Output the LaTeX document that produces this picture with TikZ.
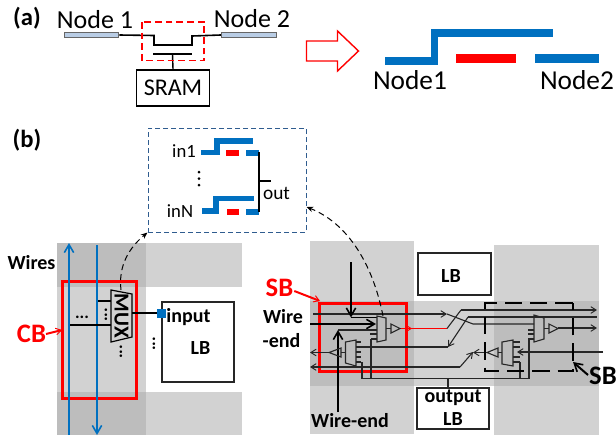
\documentclass[tikz,border=0pt]{standalone}
\usepackage{fontspec}
\setmainfont{Carlito}
\usetikzlibrary{arrows.meta}
\definecolor{lightg}{HTML}{D2D2D2}
\definecolor{darkg}{HTML}{BDBDBD}
\definecolor{wireblue}{HTML}{0070C0}
\definecolor{barfill}{HTML}{B9CDE5}
\definecolor{boxdash}{HTML}{2F5C8F}
\newcommand{\fs}[1]{\fontsize{#1}{#1}\selectfont}
\tikzset{
  x=0.75pt,y=-0.75pt,
  px/.style={line width=#1*0.75pt},
  txt/.style={inner sep=0pt,outer sep=0pt,text=black},
  lab/.style={txt,font=\fs{15}\bfseries},
  bigA/.style={txt,font=\fs{19.5}},
  bigB/.style={txt,font=\fs{20.5}},
  bluew/.style={wireblue,line width=5.6pt,line join=miter},
  redbar/.style={red,line width=6.6pt},
  tinyblue/.style={wireblue,line width=4.2pt},
  tinyred/.style={red,line width=3.8pt},
  wire/.style={black!85,px=1.1},
  fatwire/.style={black,px=1.8},
  headS/.style={-{Straight Barb[length=4pt,width=5pt,line width=0.7pt]}},
  headL/.style={-{Straight Barb[length=6pt,width=7pt,line width=1.2pt]}},
  muxs/.style={draw=black!85,px=1.1,line join=miter},
  plainbox/.style={draw=black!85,px=1.3,fill=white},
  dashcurve/.style={black,px=1,dash pattern=on 4.5pt off 3pt},
  dotsv/.style={txt,font=\fs{13}\bfseries,rotate=90},
}
\begin{document}
\begin{tikzpicture}
\useasboundingbox (0,0) rectangle (616,436);
% grey bands
\fill[lightg] (57,243) rectangle (146,435);
\fill[lightg] (146,243) rectangle (242,287);
\fill[lightg] (146,392) rectangle (242,435);
\fill[darkg] (57,243) rectangle (146,287);
\fill[darkg] (57,392) rectangle (146,435);
\fill[lightg] (310,241) rectangle (414,434);
\fill[lightg] (494,245) rectangle (599,435);
\fill[lightg] (414,301) rectangle (494,386);
\fill[darkg] (310,301) rectangle (414,386);
\fill[darkg] (494,301) rectangle (599,386);

% (a)
\node[txt,font=\fs{18.5}\bfseries] (a) at (27,18) {(a)};
\node[bigA] (n1) at (95,20) {Node 1};
\node[bigA] (n2) at (252,19) {Node 2};
\node[draw=black!60,px=1,fill=barfill,minimum width=41pt,minimum height=4.3pt,inner sep=0pt] (bar1) at (91.5,35) {};
\node[draw=black!60,px=1,fill=barfill,minimum width=41.5pt,minimum height=4.3pt,inner sep=0pt] (bar2) at (249,35) {};
\draw[black,px=1.6] (bar1.east) -- (154,35.5) -- (154,45) -- (192,45) -- (192,36) -- (bar2.west);
\node[draw=black,px=1.4,minimum width=54.5pt,minimum height=27pt,inner sep=0pt,font=\fs{18}] (sram) at (173,88) {SRAM};
\coordinate (gate) at (172.5,54);
\draw[black,px=1.6] (153,54) -- (192,54);
\draw[black,px=1.4] (gate) -- (sram.north);
\draw[red,px=1.4,dash pattern=on 5pt off 3pt] (142,22) rectangle (204,60.5);
% arrow
\draw[red,px=1.4,fill=white,line join=miter] (306.5,41) -- (337.5,41) -- (337.5,31) -- (358.5,51) -- (337.5,71) -- (337.5,61) -- (306.5,61) -- cycle;
% switch
\draw[bluew] (385,61) -- (434.5,61) -- (434.5,33) -- (553,33);
\draw[redbar] (456,58.5) -- (516,58.5);
\draw[wireblue,line width=6.6pt] (535,58.5) -- (599,58.5);
\node[bigB] (n1b) at (410,80) {Node1};
\node[bigB] (n2b) at (577,80) {Node2};

% (b)
\node[txt,font=\fs{18.5}\bfseries] (b) at (27,140) {(b)};
\node[draw=boxdash,px=1,dash pattern=on 3.5pt off 2.5pt,minimum width=118.5pt,minimum height=78pt,inner sep=0pt] (zoombox) at (227,180) {};
\node[txt,font=\fs{14}] (in1) at (184,151) {in1};
\node[txt,font=\fs{14}] (inN) at (180,211) {inN};
\node[txt,font=\fs{14.5}] (out) at (276.5,193) {out};
\draw[tinyblue] (201,152.5) -- (217,152.5) -- (217,141) -- (253,141);
\draw[tinyred] (226,153) -- (239,153);
\draw[tinyblue] (246,153) -- (259,153);
\draw[tinyblue] (202,211) -- (216,211) -- (216,198.5) -- (254,198.5);
\draw[tinyred] (227,212) -- (239,212);
\draw[tinyblue] (246,212) -- (259,212);
\draw[black,px=1.2] (259,152) -- (259,212);
\draw[black,px=1.2] (259,181) -- (271,181);
\fill[black] (199,172) circle (1.5) (199,178.5) circle (1.5) (199,185) circle (1.5);

% left: connection block
\node[lab] (wires) at (31.5,263) {Wires};
\draw[red,px=3] (62,281) rectangle (136,398);
\draw[wireblue,px=2,headL] (69,435) -- (69,243);
\draw[wireblue,px=2,headL] (97,245) -- (97,435);
\node[txt,font=\fs{20}\bfseries,text=red] (cb) at (31.5,334) {CB};
\coordinate (cbt) at (62,330);
\draw[red,px=2,headS] (cb.east) -- (cbt);
\draw[black,px=1.2,fill=lightg,line join=miter] (111,290) -- (132,294) -- (132,337) -- (111,342) -- cycle;
\node[txt,font=\fs{16}\bfseries,rotate=-90] (mux) at (121.5,316) {MUX};
\draw[black,px=1.5] (98,301) -- (111,301);
\draw[black,px=1.5] (70,325) -- (111,325);
\node[txt,font=\fs{13}\bfseries] (d1) at (82,317) {...};
\node[dotsv] (d2) at (106,315) {...};
\node[dotsv] (d3) at (121,352) {...};
\node[dotsv] (d4) at (154,344) {...};
\node[plainbox,minimum width=54pt,minimum height=60pt,inner sep=0pt] (lb1) at (198,342) {};
\fill[wireblue] (157,309) rectangle (166,318);
\coordinate (pin) at (157,313);
\draw[black,px=1.8] (132,313) -- (pin);
\node[lab] (input) at (188.5,317) {input};
\node[lab] (lb1t) at (200.5,348) {LB};
\draw[dashcurve,-{Stealth[length=5pt,width=4pt]}] (121,290) .. controls (118,265) and (130,247) .. (zoombox.south west);

% right: LB boxes
\node[plainbox,minimum width=54.75pt,minimum height=31.5pt,inner sep=0pt] (lb2) at (454.5,274) {};
\node[txt,font=\fs{15}\bfseries] (lb2t) at (451,276) {LB};
\node[plainbox,minimum width=54pt,minimum height=30.75pt,inner sep=0pt] (lb3) at (453,408.5) {};
\node[lab] (lb3a) at (453,398) {output};
\node[lab] (lb3b) at (453,419) {LB};
\draw[wire] (448,378.5) -- (lb3.north -| 448,0);

% SB red rect
\draw[red,px=3] (319,303) rectangle (406,371);
\node[txt,font=\fs{20}\bfseries,text=red] (sb) at (279.5,288) {SB};
\coordinate (sbt) at (320,301);
\draw[red,px=2,headS] (sb.east) ++(1,3) -- (sbt);
\node[lab] (w1) at (283,317) {Wire};
\node[lab] (w2) at (281.5,341) {-end};
\node[lab] (w3) at (350,421) {Wire-end};

% wires
\draw[black!85,px=1.2,headS] (313,314) -- (447,314);
\draw[wire] (447,314) -- (473,324) -- (534,324);
\draw[red,px=1.1] (400,328.5) -- (447,328.5);
\draw[red,px=1,headS] (402,328.5) -- (412,328.5);
\draw[wire] (447,328.5) -- (461,310);
\draw[wire,headS] (461,310) -- (597,310);
\draw[wire] (468,317) -- (597,317);
\draw[wire,headS] (468,317) -- (448,347);
\draw[wire] (448,347) -- (361,347);
\draw[wire,headS] (558,328) -- (597,328);
\draw[wire] (460,367) -- (322,367);
\draw[wire,headS] (322,367) -- (310,367);
\draw[wire,headS] (460,367) -- (473,352);
\draw[wire,headS] (487,352.5) -- (473,352.5);
\draw[wire,headS] (603,352) -- (517,352);
\draw[wire] (362,378.5) -- (529,378.5);
\draw[wire] (529,378.5) -- (529,339);
\draw[wire] (371,378.5) -- (371,339);
\draw[wire] (520,362) -- (520,378.5);
\draw[wire] (362,362) -- (362,378.5);
% dashed SB
\draw[black,px=2,dash pattern=on 13pt off 6pt] (572.5,303) -- (485,303) -- (485,371) -- (572.5,371) -- cycle;
% left muxes
\draw[fatwire,headL] (310,324) -- (376,324);
\draw[fatwire,headL] (351,262) -- (351,317.5);
\draw[fatwire] (351,317.5) -- (377,317.5);
\draw[wire] (338,330) -- (377,330);
\draw[black,px=2,headL] (338,412) -- (338,330);
\draw[wire] (370,334) -- (377,334);
\draw[wire] (371,339) -- (377,339);
\draw[muxs] (377,316) -- (386,318) -- (386,340) -- (377,342) -- cycle;
\draw[muxs] (391,324) -- (391,333) -- (400,328.5) -- cycle;
\draw[wire] (386,328.5) -- (391,328.5);
\draw[muxs] (345.5,342) -- (356,340) -- (356,366) -- (345.5,363) -- cycle;
\draw[muxs] (341,348) -- (341,357) -- (329,352.5) -- cycle;
\draw[wire,px=1.6] (341,352.5) -- (345.5,352.5);
\draw[wire,headS] (329,352.5) -- (310,352.5);
\foreach \y in {342,352,357,362} \draw[wire] (356,\y) -- (361,\y);
\draw[wire] (356,347) -- (361,347);
% right muxes
\draw[muxs] (534,315) -- (544,318) -- (544,339) -- (534,342) -- cycle;
\draw[muxs] (549,324) -- (549,333) -- (558,328.5) -- cycle;
\draw[wire] (544,328.5) -- (549,328.5);
\foreach \y in {330,334,339} \draw[wire] (528,\y) -- (534,\y);
\draw[muxs] (502,342) -- (513,340) -- (513,366) -- (502,364) -- cycle;
\draw[muxs] (498,348) -- (498,357) -- (487,352.5) -- cycle;
\draw[wire] (498,352.5) -- (502,352.5);
\foreach \y in {342,347,357,362} \draw[wire] (513,\y) -- (519.5,\y);
% dashed link
\draw[dashcurve,-{Stealth[length=5pt,width=4pt]}] (383,316) .. controls (372,260) and (345,222) .. (zoombox.east |- 0,207);
% SB black
\node[txt,font=\fs{20}\bfseries] (sbb) at (603,376) {SB};
\coordinate (sbbt) at (573,362);
\draw[black,px=2,headL] (588,375) -- (sbbt);
\end{tikzpicture}
\end{document}
